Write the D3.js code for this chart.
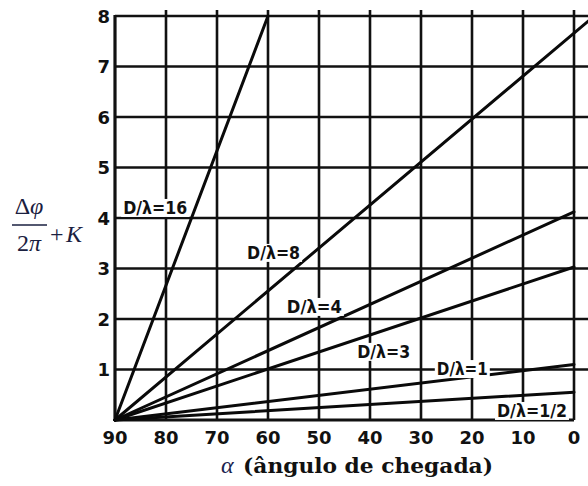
<!DOCTYPE html>
<html><head><meta charset="utf-8">
<script src="https://cdn.jsdelivr.net/npm/d3@7"></script>
<style>body{margin:0;background:#fff}svg{display:block}</style>
</head><body>
<svg id="c" width="588" height="486"></svg>
<script>
// ---- data ----
const ratios = ["16", "8", "4", "3", "1", "1/2"];
const startAlpha = [90, 90, 90, 90, 90, 90];
const startValue = [0, 0, 0, 0, 0, 0];
const endAlpha = [60, -2.8, 0, 0, 0, 0];
const endValue = [8, 7.9, 4.12, 3.03, 1.1, 0.55];
const xTicks = [90, 80, 70, 60, 50, 40, 30, 20, 10, 0];
const yTicks = [1, 2, 3, 4, 5, 6, 7, 8];
// label anchor (left, baseline) in data coordinates
const labelAlpha = [88.4, 64.1, 56.3, 42.5, 26.9, 15.1];
const labelValue = [4.08, 3.19, 2.12, 1.23, 0.89, 0.06];
const labelWidth = [64, 53, 55, 53, 51, 70];

const svg = d3.select("#c");
const W = 588;
const x = d3.scaleLinear().domain([90, 0]).range([115, 574]);
const y = d3.scaleLinear().domain([0, 8]).range([420, 16]);

// grid: vertical
const g = svg.append("g");
g.selectAll("line.v").data(xTicks.filter(d => d !== 90)).enter().append("line")
  .attr("x1", d => x(d)).attr("x2", d => x(d))
  .attr("y1", y(8) - 6).attr("y2", y(0))
  .attr("stroke", "#111").attr("stroke-width", 2.6);
// horizontal
g.selectAll("line.h").data(yTicks).enter().append("line")
  .attr("x1", x(90)).attr("x2", W)
  .attr("y1", d => y(d)).attr("y2", d => y(d))
  .attr("stroke", "#111").attr("stroke-width", 2.6);
// baseline and left axis
g.append("line").attr("x1", x(90)).attr("x2", x(0)).attr("y1", y(0)).attr("y2", y(0))
  .attr("stroke", "#111").attr("stroke-width", 3);
g.append("line").attr("x1", x(90)).attr("x2", x(90)).attr("y1", y(8) - 1).attr("y2", y(0) + 1)
  .attr("stroke", "#111").attr("stroke-width", 3.2);

// series lines
const line = d3.line().x(d => x(d[0])).y(d => y(d[1]));
ratios.forEach((r, i) => {
  svg.append("path")
    .attr("d", line([[startAlpha[i], startValue[i]], [endAlpha[i], endValue[i]]]))
    .attr("fill", "none").attr("stroke", "#0a0a0a").attr("stroke-width", 3)
    .attr("stroke-linecap", "round");
});

// labels
ratios.forEach((r, i) => {
  const lg = svg.append("g");
  const t = lg.append("text")
    .attr("x", x(labelAlpha[i])).attr("y", y(labelValue[i]))
    .attr("font-family", "'Liberation Sans Narrow','DejaVu Sans Condensed',sans-serif")
    .attr("font-weight", "bold").attr("font-size", 17).attr("fill", "#111")
    .attr("textLength", labelWidth[i]).attr("lengthAdjust", "spacingAndGlyphs")
    .text("D/λ=" + r);
  const bb = t.node().getBBox();
  lg.insert("rect", "text").attr("x", bb.x - 2).attr("y", bb.y + 1)
    .attr("width", bb.width + 4).attr("height", bb.height - 2).attr("fill", "#fff");
});

// tick labels
svg.selectAll("text.xt").data(xTicks).enter().append("text")
  .attr("x", d => x(d)).attr("y", 437).attr("text-anchor", "middle")
  .attr("dominant-baseline", "central")
  .attr("font-family", "'DejaVu Sans',sans-serif").attr("font-weight", "bold")
  .attr("font-size", 18).attr("fill", "#111").text(d => d);
svg.selectAll("text.yt").data(yTicks).enter().append("text")
  .attr("x", 110).attr("y", d => y(d)).attr("text-anchor", "end")
  .attr("dominant-baseline", "central")
  .attr("font-family", "'DejaVu Sans',sans-serif").attr("font-weight", "bold")
  .attr("font-size", 18).attr("fill", "#111").text(d => d);

// x title
svg.append("text").attr("x", 221).attr("y", 473)
  .attr("font-family", "'Liberation Serif',serif").attr("font-style", "italic")
  .attr("font-size", 24).attr("fill", "#1a2450").text("α");
svg.append("text").attr("x", 243).attr("y", 473)
  .attr("font-family", "'DejaVu Serif',serif").attr("font-weight", "bold")
  .attr("font-size", 20).attr("fill", "#111")
  .attr("textLength", 250).attr("lengthAdjust", "spacingAndGlyphs")
  .text("(ângulo de chegada)");

// y title: Δφ / 2π + K
const yt = svg.append("g").attr("font-family", "'Liberation Serif',serif")
  .attr("font-size", 24).attr("fill", "#1a2040");
yt.append("text").attr("x", 29).attr("y", 214).attr("text-anchor", "middle")
  .html('Δ<tspan font-style="italic">φ</tspan>');
yt.append("line").attr("x1", 12).attr("x2", 47).attr("y1", 225).attr("y2", 225)
  .attr("stroke", "#1a2040").attr("stroke-width", 1.6);
yt.append("text").attr("x", 29).attr("y", 251).attr("text-anchor", "middle")
  .html('2<tspan font-style="italic">π</tspan>');
yt.append("text").attr("x", 50).attr("y", 242).text("+");
yt.append("text").attr("x", 66).attr("y", 242).attr("font-style", "italic").text("K");
</script>
</body></html>
